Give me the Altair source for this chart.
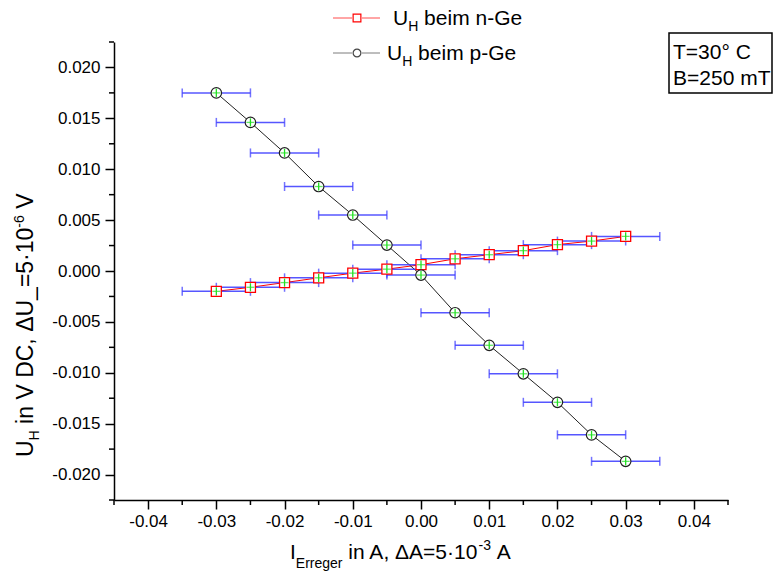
import altair as alt
import pandas as pd

# ---------------- data ----------------
x_vals = [-0.03, -0.025, -0.02, -0.015, -0.01, -0.005, 0.0, 0.005, 0.01, 0.015, 0.02, 0.025, 0.03]
u_n_ge = [-0.0020, -0.0016, -0.00114, -0.00067, -0.00021, 0.00018, 0.00062, 0.0012, 0.0016, 0.0020, 0.00259, 0.00294, 0.0034]
u_p_ge = [0.0175, 0.0146, 0.0116, 0.0083, 0.0055, 0.00255, -0.0004, -0.0041, -0.0073, -0.0101, -0.0129, -0.0161, -0.0187]
delta_i = 0.005     # horizontal error (A)
delta_u = 0.0004    # tiny vertical error (V)

x_ticks = [-0.04, -0.03, -0.02, -0.01, 0.0, 0.01, 0.02, 0.03, 0.04]
x_minor = [-0.045, -0.035, -0.025, -0.015, -0.005, 0.005, 0.015, 0.025, 0.035, 0.045]
y_ticks = [-0.02, -0.015, -0.01, -0.005, 0.0, 0.005, 0.01, 0.015, 0.02]
y_minor = [-0.0225, -0.0175, -0.0125, -0.0075, -0.0025, 0.0025, 0.0075, 0.0125, 0.0175, 0.0225]

legend_labels = ["beim n-Ge", "beim p-Ge"]
box_lines = ["T=30° C", "B=250 mT"]

FONT = "Liberation Sans"
W, H = 614, 458

xs = alt.Scale(domain=[-0.045, 0.045], nice=False, zero=False)
ys = alt.Scale(domain=[-0.0225, 0.0225], nice=False, zero=False)

X_AXIS = alt.Axis(values=x_ticks, format=".2f", title=None, orient="bottom",
                  labelExpr="replace(datum.label, '\u2212', '-')",
                  tickSize=9, labelPadding=4)
Y_AXIS = alt.Axis(values=y_ticks, format=".3f", title=None, orient="left",
                  labelExpr="replace(datum.label, '\u2212', '-')",
                  tickSize=9, labelPadding=5)


def frame(u):
    return pd.DataFrame({
        "I": x_vals, "U": u,
        "Ilo": [v - delta_i for v in x_vals], "Ihi": [v + delta_i for v in x_vals],
        "Ulo": [v - delta_u for v in u], "Uhi": [v + delta_u for v in u],
    })


dn = frame(u_n_ge)
dp = frame(u_p_ge)


def X(f):
    return alt.X(f"{f}:Q", scale=xs, axis=X_AXIS)


def Y(f):
    return alt.Y(f"{f}:Q", scale=ys, axis=Y_AXIS)


RED = "#ff0000"
BLUE = "#3838ff"
GREEN = "#22e022"

layers = []

# minor ticks
layers.append(alt.Chart(pd.DataFrame({"v": x_minor})).mark_rule(color="black", strokeWidth=1.5).encode(
    x=X("v"), y=alt.value(H), y2=alt.value(H + 5)))
layers.append(alt.Chart(pd.DataFrame({"v": y_minor})).mark_rule(color="black", strokeWidth=1.5).encode(
    y=Y("v"), x=alt.value(-5), x2=alt.value(0)))

# connecting lines
layers.append(alt.Chart(dn).mark_line(color=RED, strokeWidth=1).encode(x=X("I"), y=Y("U")))
layers.append(alt.Chart(dp).mark_line(color="#222222", strokeWidth=1).encode(x=X("I"), y=Y("U")))

# horizontal error bars
for d in (dn, dp):
    layers.append(alt.Chart(d).mark_rule(color=BLUE, strokeWidth=1.5, opacity=0.85).encode(
        x=X("Ilo"), x2="Ihi", y=Y("U")))
    layers.append(alt.Chart(d).mark_tick(color=BLUE, orient="vertical", size=9, thickness=1.5).encode(
        x=X("Ilo"), y=Y("U")))
    layers.append(alt.Chart(d).mark_tick(color=BLUE, orient="vertical", size=9, thickness=1.5).encode(
        x=X("Ihi"), y=Y("U")))

# markers
layers.append(alt.Chart(dn).mark_point(shape="square", size=100, filled=True, fill="white",
                                       stroke=RED, strokeWidth=1.3, opacity=1).encode(x=X("I"), y=Y("U")))
layers.append(alt.Chart(dp).mark_point(shape="circle", size=110, filled=True, fill="white",
                                       stroke="#222222", strokeWidth=1.2, opacity=1).encode(x=X("I"), y=Y("U")))

# small green vertical error bars
for d in (dn, dp):
    layers.append(alt.Chart(d).mark_rule(color=GREEN, strokeWidth=1.3).encode(
        x=X("I"), y=Y("Ulo"), y2="Uhi"))
    layers.append(alt.Chart(d).mark_tick(color=GREEN, orient="horizontal", size=8, thickness=1.3).encode(
        x=X("I"), y=Y("U")))

# ---------------- text helpers ----------------
one = pd.DataFrame({"k": [0]})
CW = {"U": .722, "H": .722, "i": .222, "n": .556, " ": .278, "V": .667, "D": .722, "C": .722,
      ",": .278, "Δ": .668, "_": .556, "=": .584, "5": .556, "·": .333, "1": .556, "0": .556,
      "-": .333, "6": .556, "A": .667, "I": .278, "E": .667, "r": .333, "e": .556, "g": .556,
      "3": .556, "b": .556, "m": .833, "p": .556, "G": .778}


def width(s, size):
    return sum(CW.get(c, .556) for c in s) * size


def txt(s, x, y, size, angle=0):
    return alt.Chart(one).mark_text(text=s, fontSize=size, font=FONT, align="left",
                                    baseline="alphabetic", angle=angle, color="black").encode(
        x=alt.value(x), y=alt.value(y))


def run(pieces, x0, y0, vertical=False):
    out = []
    cur = 0.0
    for s, size, off in pieces:
        lead = len(s) - len(s.lstrip(" "))
        cur += lead * CW[" "] * size
        body = s.lstrip(" ")
        if vertical:
            out.append(txt(body, x0 + off, y0 - cur, size, angle=270))
        else:
            out.append(txt(body, x0 + cur, y0 + off, size))
        cur += width(body, size)
    return out


# x-axis title
layers += run([("I", 21, 0), ("Erreger", 14, 9), (" in A, ΔA=5·10", 21, 0), ("-3", 14, -9), (" A", 21, 0)],
              176, 517)
# y-axis title
layers += run([("U", 23, 0), ("H", 14, 6), (" in V DC, ΔU_=5·10", 23, 0), ("-6", 14, -9), (" V", 23, 0)],
              -81, 415, vertical=True)

# legend
leg_rows = [(-24, -17, 279, RED, "square", legend_labels[0]),
            (11, 18, 273, "#444444", "circle", legend_labels[1])]
for ly, by, tx, col, shp, lab in leg_rows:
    layers.append(alt.Chart(one).mark_rule(color=col, strokeWidth=1, opacity=0.7).encode(
        x=alt.value(219), x2=alt.value(238), y=alt.value(ly)))
    layers.append(alt.Chart(one).mark_rule(color=col, strokeWidth=1, opacity=0.7).encode(
        x=alt.value(248), x2=alt.value(266), y=alt.value(ly)))
    layers.append(alt.Chart(one).mark_point(shape=shp, size=60, filled=True, fill="white",
                                            stroke=col, strokeWidth=1.2, opacity=1).encode(
        x=alt.value(243), y=alt.value(ly)))
    layers += run([("U", 21, 0), ("H", 14, 6), (" " + lab, 21, 0)], tx, by)

# annotation box
layers.append(alt.Chart(one).mark_rect(fill="white", stroke="black", strokeWidth=1.5).encode(
    x=alt.value(555), x2=alt.value(658), y=alt.value(-9), y2=alt.value(51)))
layers.append(txt(box_lines[0], 559, 17, 21))
layers.append(txt(box_lines[1], 559, 43, 21))

chart = alt.layer(*layers).properties(
    width=W, height=H,
    padding={"left": 114, "top": 42, "right": 45, "bottom": 80},
    autosize=alt.AutoSizeParams(type="none"),
    background="white",
).configure_view(strokeWidth=0).configure_axis(
    domainColor="black", domainWidth=1.5, tickColor="black", tickWidth=1.5,
    labelColor="black", labelFont=FONT, labelFontSize=17, grid=False,
)

chart.save("out.html", embed_options={"renderer": "svg", "actions": False})
